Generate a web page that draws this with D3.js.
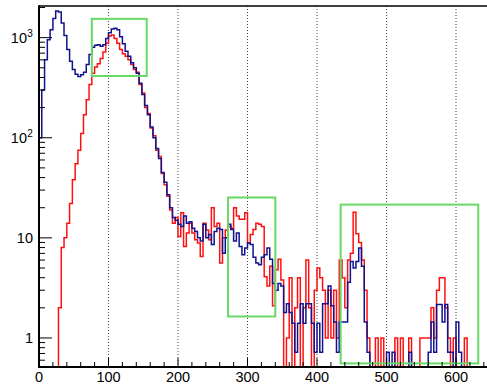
<!DOCTYPE html>
<html><head><meta charset="utf-8">
<script src="https://cdn.jsdelivr.net/npm/d3@7"></script>
<style>body{margin:0;background:#fff}svg{display:block}</style>
</head><body>
<script>
const binWidth = 4;
const blueValues = [100,300,600,950,1200,1550,1850,1800,1400,1050,
760,580,480,430,410,425,450,540,680,800,
840,850,820,850,980,1120,1220,1240,1200,1020,
870,730,650,560,500,440,350,270,210,170,
128,100,78,62,45,36,27,20,16,15,
13.7,13,16.5,14,14.5,12.5,11.6,10,9.3,13.7,
10,10.8,8.6,11.6,12.5,12.1,7,10,13.7,12.1,
9.3,11.2,8.2,6.8,7.9,8.9,8.6,6.4,5.6,5.4,
6.4,6.8,7.9,6.1,3.5,3.0,3.5,3.3,1.8,2.2,
1.8,1.4,0.72,1.4,2.2,1.4,2.2,2.2,1.4,0.72,
1.4,0.72,2.2,2.2,3.3,2.1,1.44,0.72,1.44,1.44,
1.44,3.6,5.8,5,5.8,7.9,5.2,1.44,0.72,0,
0,0,0,0,0,0.72,0,0.72,0,0,
0,0,0,0.72,0,0,0,0,0,0,
0.72,1.44,0.72,2.16,2.16,1.44,2.16,0.72,0.72,0,
1.44,0.72,0,0,0,0,0,0,0,0,0];
const redValues = [0,0,0,0,0,0,0,2,8,10,
14,22,38,55,75,110,170,240,340,440,
510,550,620,720,880,1040,1060,980,880,760,
690,650,600,540,480,450,340,280,200,175,
125,105,75,65,44,34,26,19,14,16,
10.3,17.8,8.2,11.2,14,11.2,9.6,8.9,6.5,14,
12,9.6,20,13,14,5.6,10,12,13,12.5,
20,16.5,15.3,15.3,17.8,8.9,10.8,12.1,14,13.7,
13,4.1,3.3,5.2,2.1,4.8,6.1,3.8,0,1,
4,0,2,4,0,2,6,2,0,3,
5,4,3,1,3,1,3,1,6,4,
2,6,7,18,11,9,6,3,1,0,
0,1,0,1,0,0,0,0,1,0,
1,0,0,1,0,0,0,1,1,1,
1,2,1,3,4,4,2,1,0,1,
0,0,0,1,0,0,0,0,0,0,0];
const xTicks = [0,100,200,300,400,500,600];
const yMajor = [1,10,100,1000];
const yTickLabels = [["1",""],["10",""],["10","2"],["10","3"]];
const boxes = [
  {x0:76, x1:155, y0:414, y1:1540},
  {x0:272, x1:340, y0:1.64, y1:25.3},
  {x0:434, x1:632, y0:0.557, y1:21.5}
];

const W = 487, H = 386;
const L = 39, T = 6, B = 367, R = 487.3;
const svg = d3.select("body").append("svg").attr("width", W).attr("height", H);
const x = d3.scaleLinear().domain([0, 645]).range([L, R]);
const y = d3.scaleLog().domain([0.513, 2070]).range([B, T]);

svg.append("defs").append("clipPath").attr("id","c")
  .append("rect").attr("x",L).attr("y",T).attr("width",R-L).attr("height",B-T);

// grid
svg.append("g").selectAll("line").data(xTicks.filter(d=>d>0)).join("line")
  .attr("x1",d=>x(d)).attr("x2",d=>x(d)).attr("y1",T).attr("y2",B)
  .attr("stroke","#444").attr("stroke-width",1).attr("stroke-dasharray","1,2");

function stepPath(vals){
  const yv = v => v > 0 ? y(v) : B + 2;
  let p = `M${x(0)},${B+2}`;
  vals.forEach((v,i)=>{
    p += `V${yv(v)}H${x((i+1)*binWidth)}`;
  });
  return p;
}
const g = svg.append("g").attr("clip-path","url(#c)");
g.append("path").attr("d", stepPath(redValues)).attr("fill","none")
  .attr("stroke","#ff1010").attr("stroke-width",1.5).attr("stroke-linejoin","miter");
g.append("path").attr("d", stepPath(blueValues)).attr("fill","none")
  .attr("stroke","#12128f").attr("stroke-width",1.5).attr("stroke-linejoin","miter");

// boxes
svg.append("g").selectAll("rect").data(boxes).join("rect")
  .attr("x",d=>x(d.x0)).attr("y",d=>y(d.y1))
  .attr("width",d=>x(d.x1)-x(d.x0)).attr("height",d=>y(d.y0)-y(d.y1))
  .attr("fill","none").attr("stroke","#66d966").attr("stroke-width",2);

// frame
svg.append("line").attr("x1",L).attr("x2",W).attr("y1",T).attr("y2",T)
  .attr("stroke","#000").attr("stroke-width",1.5);

// x axis
const xMinor = d3.range(0, 641, 20);
svg.append("g").selectAll("line").data(xMinor).join("line")
  .attr("x1",d=>x(d)).attr("x2",d=>x(d)).attr("y1",B)
  .attr("y2",d=> d%100===0 ? B-9 : B-5).attr("stroke","#000").attr("stroke-width",1);
svg.append("line").attr("x1",L).attr("x2",W).attr("y1",B).attr("y2",B)
  .attr("stroke","#000").attr("stroke-width",2);
svg.append("g").selectAll("text").data(xTicks).join("text")
  .attr("x",d=>x(d)).attr("y",382).attr("text-anchor","middle")
  .attr("font-family","Liberation Sans, Arial, sans-serif").attr("font-size",14.5)
  .text(d=>d);

// y axis
const yMinor = [];
[0.1,1,10,100,1000].forEach(dec=>{ for(let k=2;k<=9;k++){ const v=dec*k; if(v>=0.513 && v<=2070) yMinor.push(v);} });
svg.append("g").selectAll("line").data(yMinor).join("line")
  .attr("x1",L).attr("x2",L+6).attr("y1",d=>y(d)).attr("y2",d=>y(d))
  .attr("stroke","#000").attr("stroke-width",1);
svg.append("g").selectAll("line").data(yMajor).join("line")
  .attr("x1",L).attr("x2",L+13).attr("y1",d=>y(d)).attr("y2",d=>y(d))
  .attr("stroke","#000").attr("stroke-width",1);
svg.append("line").attr("x1",L).attr("x2",L).attr("y1",T-0.75).attr("y2",B+1)
  .attr("stroke","#000").attr("stroke-width",2);
const yl = svg.append("g").selectAll("text").data(yMajor).join("text")
  .attr("x",d=> d>=100 ? 27 : 33).attr("y",d=>y(d)+5).attr("text-anchor","end")
  .attr("font-family","Liberation Sans, Arial, sans-serif").attr("font-size",14.5);
yl.each(function(d,i){
  const t = d3.select(this);
  t.text(yTickLabels[i][0]);
  if (yTickLabels[i][1]) {
    svg.append("text").attr("x",27.3).attr("y",y(d)-1)
      .attr("font-family","Liberation Sans, Arial, sans-serif").attr("font-size",10)
      .text(yTickLabels[i][1]);
  }
});
</script>
</body></html>
